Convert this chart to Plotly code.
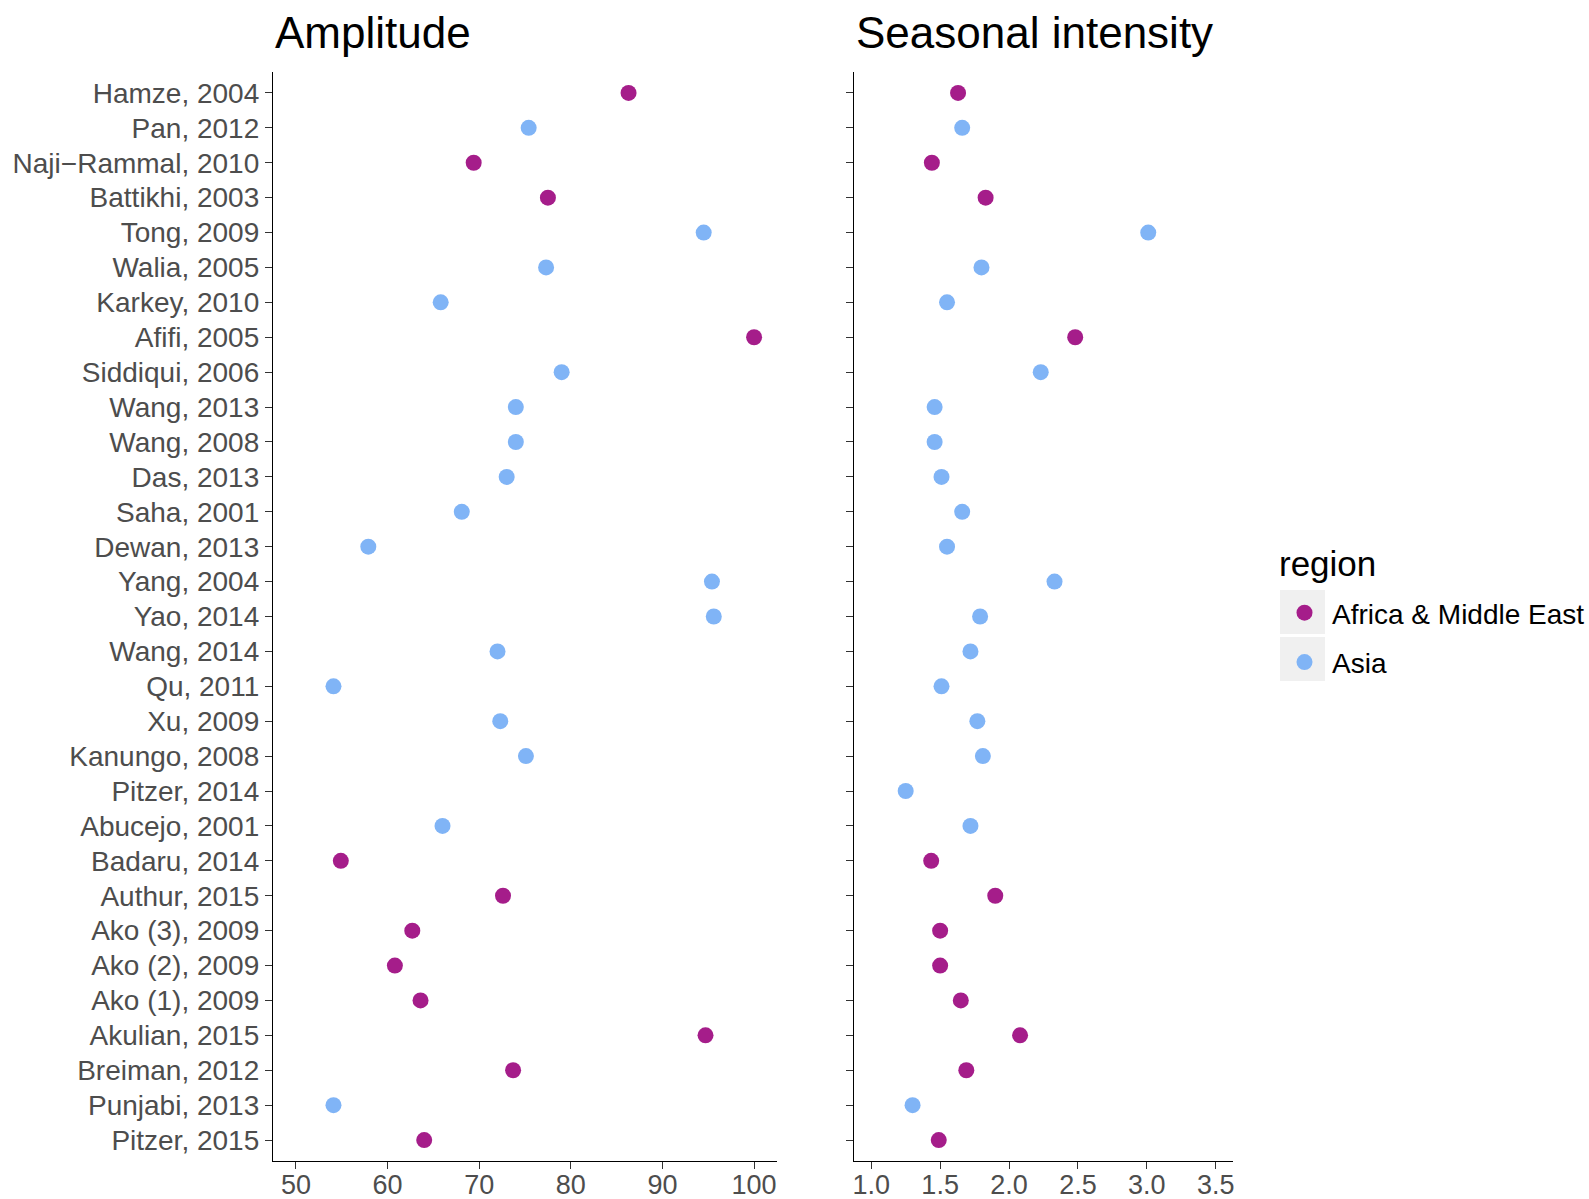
import plotly.graph_objects as go

studies = ["Hamze, 2004", "Pan, 2012", "Naji\u2212Rammal, 2010", "Battikhi, 2003", "Tong, 2009",
           "Walia, 2005", "Karkey, 2010", "Afifi, 2005", "Siddiqui, 2006", "Wang, 2013",
           "Wang, 2008", "Das, 2013", "Saha, 2001", "Dewan, 2013", "Yang, 2004",
           "Yao, 2014", "Wang, 2014", "Qu, 2011", "Xu, 2009", "Kanungo, 2008",
           "Pitzer, 2014", "Abucejo, 2001", "Badaru, 2014", "Authur, 2015", "Ako (3), 2009",
           "Ako (2), 2009", "Ako (1), 2009", "Akulian, 2015", "Breiman, 2012", "Punjabi, 2013",
           "Pitzer, 2015"]
region = ["Africa & Middle East", "Asia", "Africa & Middle East", "Africa & Middle East", "Asia",
          "Asia", "Asia", "Africa & Middle East", "Asia", "Asia",
          "Asia", "Asia", "Asia", "Asia", "Asia",
          "Asia", "Asia", "Asia", "Asia", "Asia",
          "Asia", "Asia", "Africa & Middle East", "Africa & Middle East", "Africa & Middle East",
          "Africa & Middle East", "Africa & Middle East", "Africa & Middle East", "Africa & Middle East", "Asia",
          "Africa & Middle East"]
amplitude = [86.3, 75.4, 69.4, 77.5, 94.5,
             77.3, 65.8, 100.0, 79.0, 74.0,
             74.0, 73.0, 68.1, 57.9, 95.4,
             95.6, 72.0, 54.1, 72.3, 75.1,
             None, 66.0, 54.9, 72.6, 62.7,
             60.8, 63.6, 94.7, 73.7, 54.1,
             64.0]
intensity = [1.63, 1.66, 1.44, 1.83, 3.01,
             1.80, 1.55, 2.48, 2.23, 1.46,
             1.46, 1.51, 1.66, 1.55, 2.33,
             1.79, 1.72, 1.51, 1.77, 1.81,
             1.25, 1.72, 1.435, 1.90, 1.50,
             1.50, 1.65, 2.08, 1.69, 1.30,
             1.49]
regions = ["Africa & Middle East", "Asia"]
colors = {"Africa & Middle East": "#A51D8A", "Asia": "#80B4F6"}
amp_ticks = [50, 60, 70, 80, 90, 100]
int_ticks = [1.0, 1.5, 2.0, 2.5, 3.0, 3.5]

FONT = "Liberation Sans, Arial, Helvetica, sans-serif"
MSIZE = 16
fig = go.Figure()
for reg in regions:
    idx = [i for i, r in enumerate(region) if r == reg]
    fig.add_trace(go.Scatter(
        x=[amplitude[i] for i in idx], y=[studies[i] for i in idx],
        mode="markers", name=reg, legendgroup=reg, showlegend=True,
        marker=dict(color=colors[reg], size=MSIZE, line=dict(width=0)),
        xaxis="x", yaxis="y"))
    fig.add_trace(go.Scatter(
        x=[intensity[i] for i in idx], y=[studies[i] for i in idx],
        mode="markers", name=reg, legendgroup=reg, showlegend=False,
        marker=dict(color=colors[reg], size=MSIZE, line=dict(width=0)),
        xaxis="x2", yaxis="y2"))

W, H = 1589, 1199
L, R, T, B = 273, 1589 - 1233, 72, 1199 - 1161
pw = W - L - R
ph = H - T - B


def px(x):
    return (x - L) / pw


def py(y):
    return (H - B - y) / ph


axis_common = dict(showgrid=False, zeroline=False, showline=True, linecolor="#000000",
                   linewidth=1.3, ticks="outside", ticklen=7, tickwidth=1.3,
                   tickcolor="#333333")
yrange = [len(studies) - 0.4, -0.6]
xtickfont = dict(family=FONT, size=27, color="#4D4D4D")
ytickfont = dict(family=FONT, size=28, color="#4D4D4D")

shapes = []
for top, bot in [(590, 634), (637, 681)]:
    shapes.append(dict(type="rect", xref="paper", yref="paper",
                       x0=px(1280), x1=px(1325), y0=py(bot), y1=py(top),
                       fillcolor="#F0F0F0", line=dict(width=0), layer="below"))

fig.update_layout(
    width=W, height=H,
    margin=dict(l=L, r=R, t=T, b=B, autoexpand=False),
    paper_bgcolor="white", plot_bgcolor="rgba(0,0,0,0)",
    font=dict(family=FONT, size=28, color="#000000"),
    xaxis=dict(domain=[0, px(777)], range=[47.5, 102.5],
               tickvals=amp_ticks, anchor="y", tickfont=xtickfont,
               ticklabelstandoff=-8, **axis_common),
    xaxis2=dict(domain=[px(854), 1], range=[0.875, 3.625],
                tickvals=int_ticks, tickformat=".1f", anchor="y2", tickfont=xtickfont,
                ticklabelstandoff=-8, **axis_common),
    yaxis=dict(type="category", categoryorder="array", categoryarray=studies,
               range=yrange, anchor="x", ticklabelstandoff=0, tickfont=ytickfont,
               **axis_common),
    yaxis2=dict(type="category", categoryorder="array", categoryarray=studies,
                range=yrange, anchor="x2", matches="y", showticklabels=False,
                **axis_common),
    legend=dict(x=px(1277), xanchor="left", y=py(588), yanchor="top",
                font=dict(family=FONT, size=28, color="#000000"),
                bgcolor="rgba(0,0,0,0)", itemsizing="trace", tracegroupgap=10,
                itemwidth=45),
    shapes=shapes,
    annotations=[
        dict(text="Amplitude", xref="paper", yref="paper", x=0, y=py(33),
             xanchor="left", yanchor="middle", showarrow=False,
             font=dict(family=FONT, size=44, color="#000000")),
        dict(text="Seasonal intensity", xref="paper", yref="paper",
             x=px(854), y=py(33),
             xanchor="left", yanchor="middle", showarrow=False,
             font=dict(family=FONT, size=44, color="#000000")),
        dict(text="region", xref="paper", yref="paper", x=px(1277), y=py(563),
             xanchor="left", yanchor="middle", showarrow=False,
             font=dict(family=FONT, size=35, color="#000000")),
    ],
)
fig.write_html("out.html")
